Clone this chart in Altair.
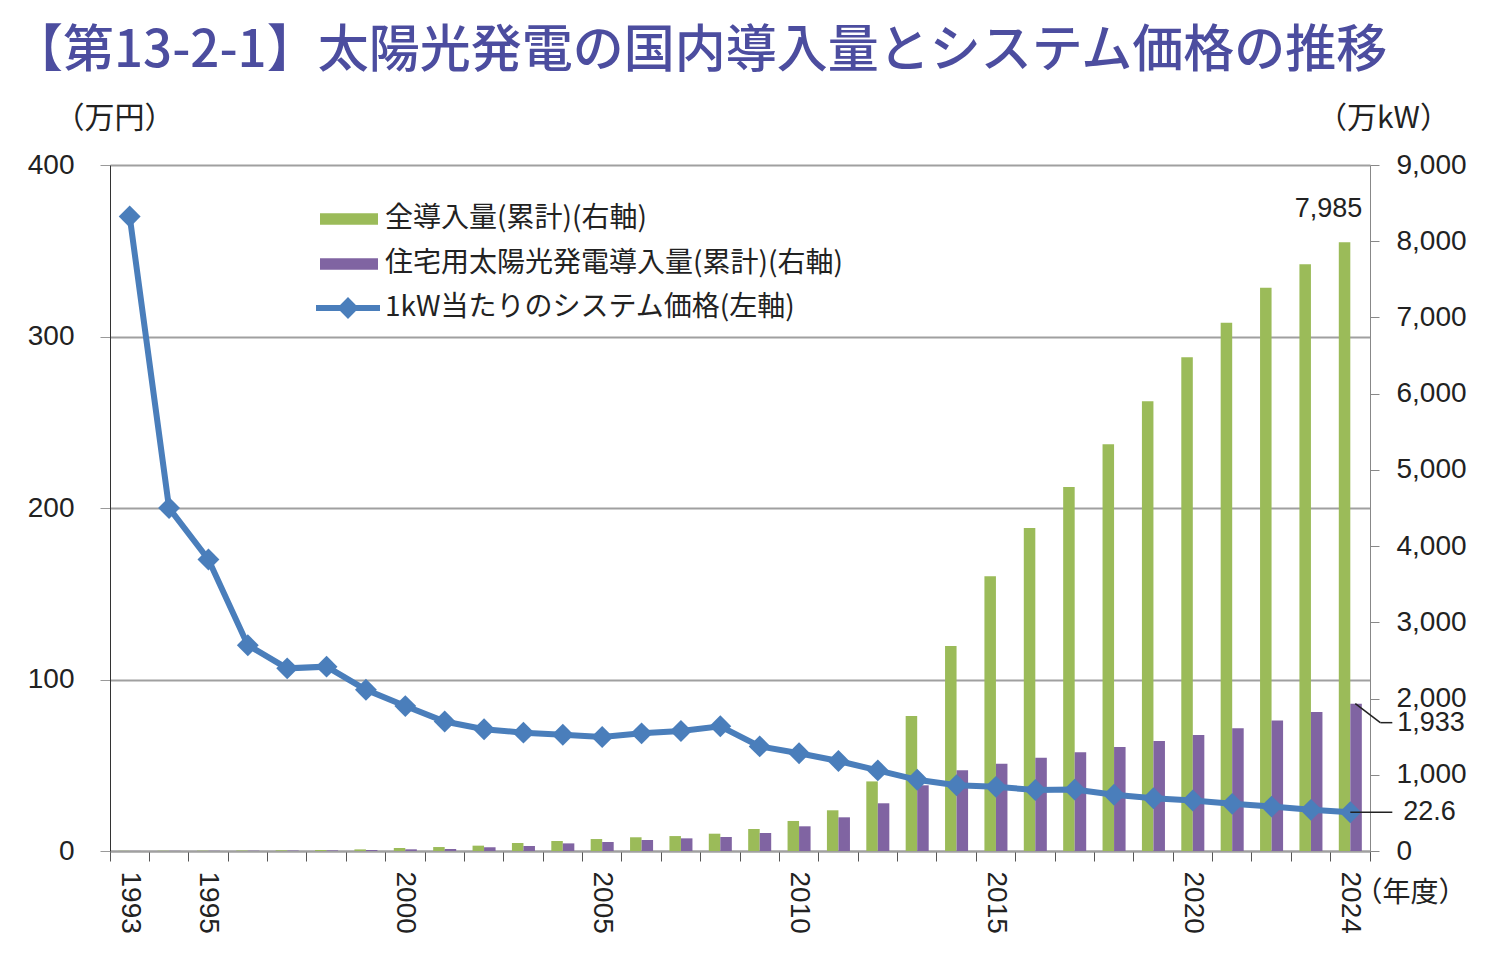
import altair as alt
import pandas as pd

years = [str(y) for y in range(1993, 2025)]
price = [370, 200, 170, 120, 106.5, 107.5, 94, 84.5, 75.5, 71, 69, 67.8, 66.5, 68.6, 70, 72.7,
         61, 57, 52.5, 47, 41.5, 38.3, 37.4, 35.6, 35.8, 32.8, 30.8, 29.4, 27.5, 25.9, 24, 22.6]
total = [2, 3, 4, 6, 9, 13, 21, 39, 52, 70, 105, 131, 157, 180, 196, 227,
         289, 394, 534, 913, 1771, 2690, 3606, 4236, 4776, 5336, 5900, 6477, 6931, 7389, 7697, 7985]
resid = [1, 2, 3, 4, 6, 8, 13, 22, 26, 49, 66, 100, 118, 144, 166, 184,
         236, 324, 442, 626, 862, 1060, 1146, 1225, 1295, 1365, 1443, 1522, 1610, 1712, 1822, 1933]
label_years = ["1993", "1995", "2000", "2005", "2010", "2015", "2020", "2024"]

S1 = "全導入量(累計)(右軸)"
S2 = "住宅用太陽光発電導入量(累計)(右軸)"
S3 = "1kW当たりのシステム価格(左軸)"
GREEN, PURPLE, BLUE = "#9BBB59", "#8064A2", "#4A7EBB"
TEXT = "#222222"
NUM_FONT = "Liberation Sans"
JP_FONT = "Noto Sans CJK JP"

df_bar = pd.DataFrame({
    "year": years * 2,
    "series": [S1] * len(years) + [S2] * len(years),
    "value": total + resid,
})
df_line = pd.DataFrame({"year": years, "price": price, "series": [S3] * len(years)})

last = years[-1]
df_total_last = pd.DataFrame({"year": [last], "value": [total[-1]], "label": [f"{total[-1]:,}"]})
df_resid_last = pd.DataFrame({"year": [last], "value": [resid[-1]], "label": [f"{resid[-1]:,}"]})
df_price_last = pd.DataFrame({"year": [last], "value": [price[-1]], "label": [f"{price[-1]}"]})

W, H = 1260, 686

xscale = alt.Scale(type="band", domain=years, paddingInner=0, paddingOuter=0)
yr_scale = alt.Scale(domain=[0, 9000], nice=False)
yl_scale = alt.Scale(domain=[0, 400], nice=False)

label_test = "indexof(" + str(label_years) + ", datum.label) >= 0 ? datum.label : ''"

x_axis = alt.Axis(
    title="（年度）", titleAngle=0, titleX=W - 16, titleY=42, titleAlign="left",
    titleBaseline="middle", titleFont=JP_FONT, titleFontSize=28, titleFontWeight="normal",
    titleColor=TEXT,
    labelAngle=90, labelFont=NUM_FONT, labelFontSize=28, labelColor=TEXT,
    labelExpr=label_test, labelOverlap=False, labelPadding=10,
    bandPosition=1, tickExtra=True,
    tickSize=10, tickColor="#555555", tickWidth=1,
    domainColor="#a0a0a0", domainWidth=2, grid=False,
)

right_axis = alt.Axis(
    orient="right", values=list(range(0, 9001, 1000)), format=",.0f", grid=False,
    domainColor="#888888", domainWidth=1, tickColor="#888888", tickSize=9,
    labelFont=NUM_FONT, labelFontSize=28, labelColor=TEXT, labelPadding=17,
    title="（万kW）", titleAngle=0, titleX=13, titleY=-47, titleAlign="center",
    titleBaseline="middle", titleFont=JP_FONT, titleFontSize=30, titleFontWeight="normal",
    titleColor=TEXT,
)

left_axis = alt.Axis(
    orient="left", values=[0, 100, 200, 300, 400], format="d", grid=True,
    gridColor="#a0a0a0", gridWidth=2,
    domainColor="#333333", domainWidth=1, tickColor="#999999", tickSize=10,
    labelFont=NUM_FONT, labelFontSize=28, labelColor=TEXT, labelPadding=26,
    title="（万円）", titleAngle=0, titleX=4, titleY=-47, titleAlign="center",
    titleBaseline="middle", titleFont=JP_FONT, titleFontSize=30, titleFontWeight="normal",
    titleColor=TEXT,
)

bar_sym = "M-1,-0.2H1V0.2H-1Z"
line_sym = ("M-1,-0.094H-0.246L0,-0.34L0.246,-0.094H1V0.094H0.246L0,0.34L-0.246,0.094H-1Z")

X = alt.X("year:N", scale=xscale, axis=x_axis)
YR_val = alt.Y("value:Q", scale=yr_scale, axis=right_axis)
YL_val = alt.Y("value:Q", scale=yl_scale, axis=left_axis)

bars = alt.Chart(df_bar).mark_bar().encode(
    x=X,
    xOffset=alt.XOffset("series:N", sort=[S1, S2],
                        scale=alt.Scale(domain=[S1, S2], paddingOuter=0.71, paddingInner=0)),
    y=YR_val,
    color=alt.Color("series:N", scale=alt.Scale(domain=[S1, S2], range=[GREEN, PURPLE]),
                    legend=alt.Legend(title=None, orient="none", legendX=210, legendY=25,
                                      symbolType=bar_sym, symbolSize=3364, symbolStrokeWidth=0,
                                      labelOffset=7, rowPadding=2, padding=0,
                                      labelFont=JP_FONT, labelFontSize=28, labelColor=TEXT,
                                      labelLimit=0)),
)

t_total = alt.Chart(df_total_last).mark_text(
    align="right", baseline="middle", dx=12, dy=-33, font=NUM_FONT, fontSize=27, color=TEXT
).encode(x=X, y=YR_val, text="label:N")

r_resid_a = alt.Chart(df_resid_last).mark_rule(
    color=TEXT, strokeWidth=1.5, xOffset=5, x2Offset=30, yOffset=0, y2Offset=19
).encode(x=X, x2="year:N", y=YR_val, y2="value:Q")
r_resid_b = alt.Chart(df_resid_last).mark_rule(
    color=TEXT, strokeWidth=1.5, xOffset=30, x2Offset=42, yOffset=19, y2Offset=19
).encode(x=X, x2="year:N", y=YR_val, y2="value:Q")
t_resid = alt.Chart(df_resid_last).mark_text(
    align="left", baseline="middle", dx=47, dy=19, font=NUM_FONT, fontSize=27, color=TEXT
).encode(x=X, y=YR_val, text="label:N")

bar_group = alt.layer(bars, t_total, r_resid_a, r_resid_b, t_resid)

YL_price = alt.Y("price:Q", scale=yl_scale, axis=left_axis)

line = alt.Chart(df_line).mark_line(strokeWidth=6).encode(
    x=X,
    y=YL_price,
    color=alt.Color("series:N", scale=alt.Scale(domain=[S3], range=[BLUE]),
                    legend=alt.Legend(title=None, orient="none", legendX=206, legendY=111,
                                      symbolType=line_sym, symbolSize=4096,
                                      symbolFillColor=BLUE, symbolStrokeWidth=0,
                                      labelOffset=5, padding=0,
                                      labelFont=JP_FONT, labelFontSize=28, labelColor=TEXT,
                                      labelLimit=0)),
)
points = alt.Chart(df_line).mark_point(shape="diamond", filled=True, size=480, opacity=1,
                                       color=BLUE).encode(x=X, y=YL_price)
r_price = alt.Chart(df_price_last).mark_rule(
    color=TEXT, strokeWidth=1.5, xOffset=0, x2Offset=42
).encode(x=X, x2="year:N", y=YL_val)
t_price = alt.Chart(df_price_last).mark_text(
    align="left", baseline="middle", dx=53, font=NUM_FONT, fontSize=27, color=TEXT
).encode(x=X, y=YL_val, text="label:N")

line_group = alt.layer(line, points, r_price, t_price)

chart = alt.layer(bar_group, line_group).resolve_scale(
    y="independent", color="independent"
).properties(
    width=W, height=H,
    padding={"left": 102, "top": 157, "right": 105, "bottom": 95},
    autosize=alt.AutoSizeParams(type="none"),
    title=alt.Title("【第13-2-1】太陽光発電の国内導入量とシステム価格の推移",
                    anchor="start", frame="group", dx=-98, offset=25,
                    font=JP_FONT, fontSize=51, fontWeight=500, color="#4C4D9F"),
).configure_view(stroke=None).configure_legend(symbolBaseFillColor=BLUE)

chart.save("out.html", embed_options={"renderer": "svg", "actions": False})
